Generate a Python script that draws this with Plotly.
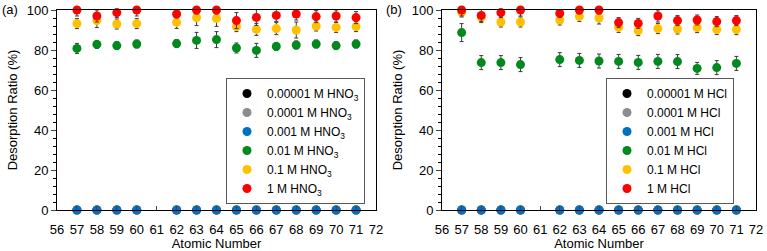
import plotly.graph_objects as go

atomic_numbers = [57, 58, 59, 60, 62, 63, 64, 65, 66, 67, 68, 69, 70, 71]
x_ticks = list(range(56, 73))

# Panel (a) HNO3
hno3_1M = [100, 97, 98.7, 100, 98, 100, 100, 94.7, 96.3, 97.3, 98, 96.7, 97, 96.2]
hno3_1M_err = [3, 3, 2.5, 3, 2, 2, 2, 4, 4, 3, 3, 3, 3, 3]
hno3_01M = [93.2, 94.7, 93, 93.2, 93.8, 96.2, 95.8, 91.7, 90.3, 90.7, 90, 92, 91.3, 91.7]
hno3_01M_err = [2.5, 3.5, 2.5, 2.5, 3, 4, 4, 2.5, 3, 3, 4, 2.5, 2.5, 2.5]
hno3_001M = [80.8, 82.8, 82.2, 83, 83.2, 84.8, 85.2, 81, 79.8, 81.8, 82.5, 83, 82.2, 83]
hno3_001M_err = [2.5, 2, 2, 2, 2, 4, 4, 2.5, 3.5, 2, 2, 2, 2, 2]
hno3_0001M = [0] * 14
hno3_00001M = [0] * 14
hno3_000001M = [0] * 14

# Panel (b) HCl
hcl_1M = [100, 97.3, 98.7, 100, 98.3, 100, 100, 93.7, 93.3, 97, 94.7, 95, 94.2, 94.7]
hcl_1M_err = [3, 3, 2.5, 3, 2, 2, 2, 2.5, 2.5, 3, 2.5, 2.5, 2.5, 2.5]
hcl_01M = [99, 96.2, 94, 94, 95, 96.8, 96, 91.3, 89.7, 90.7, 90.5, 91.2, 90.2, 90.2]
hcl_01M_err = [2.5, 2.5, 2.5, 2.5, 2.5, 2.5, 3, 2.5, 2.5, 2.5, 2.5, 2.5, 2.5, 2.5]
hcl_001M = [88.7, 73.7, 73.7, 72.7, 75.2, 74.8, 74.5, 74.3, 73.8, 74.3, 74.2, 70.8, 71.2, 73.3]
hcl_001M_err = [4.5, 3.5, 3.5, 3.5, 3.5, 3.5, 3.5, 3.5, 3.5, 3.5, 3.5, 3, 3.5, 3.5]
hcl_0001M = [0] * 14
hcl_00001M = [0] * 14
hcl_000001M = [0] * 14

colors = ["#000000", "#8c8c8c", "#0070C0", "#008A1E", "#FFC000", "#FF0000"]
labels_a = ["0.00001 M HNO<sub>3</sub>", "0.0001 M HNO<sub>3</sub>", "0.001 M HNO<sub>3</sub>",
            "0.01 M HNO<sub>3</sub>", "0.1 M HNO<sub>3</sub>", "1 M HNO<sub>3</sub>"]
labels_b = ["0.00001 M HCl", "0.0001 M HCl", "0.001 M HCl", "0.01 M HCl", "0.1 M HCl", "1 M HCl"]

FONT = "Liberation Sans, Arial, sans-serif"
fig = go.Figure()

def add_panel(series, errs, labels, xaxis, yaxis, legend):
    for ys, err, lab, col in zip(series, errs, labels, colors):
        kw = {}
        if err is not None:
            kw["error_y"] = dict(type="data", array=err, visible=True, color="#3a3a3a",
                                 thickness=1, width=2)
        fig.add_trace(go.Scatter(
            x=atomic_numbers, y=ys, mode="markers", name=lab,
            marker=dict(color=col, size=9, line=dict(width=0)),
            xaxis=xaxis, yaxis=yaxis, legend=legend, cliponaxis=False, **kw))

add_panel([hno3_000001M, hno3_00001M, hno3_0001M, hno3_001M, hno3_01M, hno3_1M],
          [None, None, None, hno3_001M_err, hno3_01M_err, hno3_1M_err],
          labels_a, "x", "y", "legend")
add_panel([hcl_000001M, hcl_00001M, hcl_0001M, hcl_001M, hcl_01M, hcl_1M],
          [None, None, None, hcl_001M_err, hcl_01M_err, hcl_1M_err],
          labels_b, "x2", "y2", "legend2")

ydom = [41 / 251, 241 / 251]
xcommon = dict(range=[56, 72], tickvals=x_ticks, ticks="inside", ticklen=4, automargin=False,
               ticklabelstandoff=7,
               showline=True, linecolor="#000000", linewidth=1, mirror=True,
               showgrid=False, zeroline=False, tickfont=dict(size=13, color="#000"),
               title=dict(text="Atomic Number", font=dict(size=13, color="#000"), standoff=5))
ycommon = dict(range=[0, 100], tickvals=[0, 20, 40, 60, 80, 100], ticks="outside", ticklen=5,
               automargin=False,
               minor=dict(dtick=4, ticks="outside", ticklen=3, tickcolor="#000"),
               showline=True, linecolor="#000000", linewidth=1, mirror=True,
               showgrid=False, zeroline=False, tickfont=dict(size=13, color="#000"),
               title=dict(text="Desorption Ratio (%)", font=dict(size=13, color="#000"), standoff=6))

legend_common = dict(bgcolor="white", bordercolor="#595959", borderwidth=1,
                     font=dict(size=12, color="#000"), xanchor="left", yanchor="top",
                     tracegroupgap=0, itemwidth=30)

fig.update_layout(
    width=767, height=251, margin=dict(l=0, r=0, t=0, b=0, autoexpand=False),
    paper_bgcolor="white", plot_bgcolor="white",
    font=dict(family=FONT, size=13, color="#000"),
    xaxis=dict(domain=[57 / 767, 376 / 767], anchor="y", **xcommon),
    yaxis=dict(domain=ydom, anchor="x", **ycommon),
    xaxis2=dict(domain=[442 / 767, 756 / 767], anchor="y2", **xcommon),
    yaxis2=dict(domain=ydom, anchor="x2", **ycommon),
    legend=dict(x=226 / 767, y=1 - 78 / 251, **legend_common),
    legend2=dict(x=606 / 767, y=1 - 78 / 251, **legend_common),
    annotations=[
        dict(text="(a)", x=0, y=1 - 10 / 251, xref="paper", yref="paper", xanchor="left",
             yanchor="middle", showarrow=False, font=dict(size=13, color="#000")),
        dict(text="(b)", x=384 / 767, y=1 - 10 / 251, xref="paper", yref="paper", xanchor="left",
             yanchor="middle", showarrow=False, font=dict(size=13, color="#000")),
    ],
)

fig.write_html("out.html", config={"displayModeBar": False},
               post_script="document.body.style.margin='0';")
